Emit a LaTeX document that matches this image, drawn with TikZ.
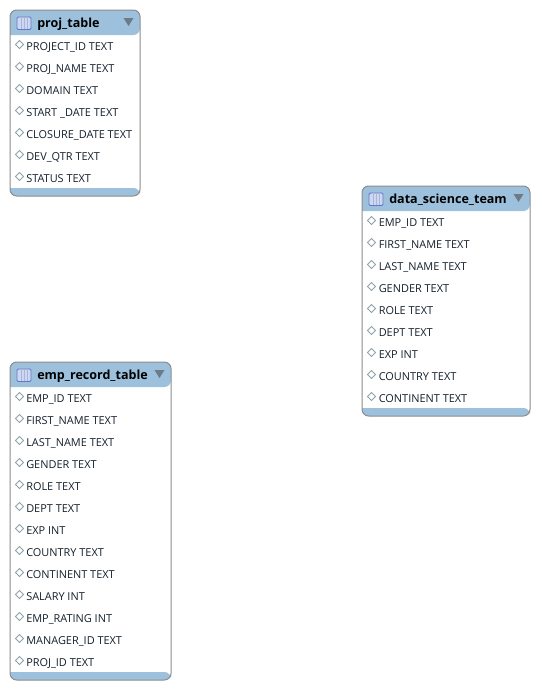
\documentclass[tikz,border=0pt]{standalone}
\usepackage{fontspec}
\setmainfont{Open Sans}
\definecolor{headblue}{HTML}{9DC1DC}
\definecolor{edgegray}{HTML}{8C8C8C}
\definecolor{iconblue}{HTML}{5F78C8}
\definecolor{arrowgray}{HTML}{6E7A84}
\definecolor{diamondgray}{HTML}{8FA3A8}
\definecolor{rowink}{HTML}{14202C}
\tikzset{
  rowtext/.style={anchor=base west, inner sep=0pt, font=\fontsize{8.2}{10}\selectfont, text=rowink},
  titletext/.style={anchor=base west, inner sep=0pt, font=\fontsize{9.4}{11}\selectfont\bfseries, text=black},
  keymark/.style={draw=diamondgray, fill=white, line width=0.6pt},
}
% one table shell: left, top, right, bottom, name, title
\newcommand{\tableshell}[6]{
  \fill[white, rounded corners=5] (#1,#2) rectangle (#3,#4);
  \fill[headblue, rounded corners=5] (#1,#2+25) -- (#1,#2) -- (#3,#2) -- (#3,#2+25) [sharp corners] -- cycle;
  \fill[headblue, rounded corners=5] (#1,#4-8) -- (#1,#4) -- (#3,#4) -- (#3,#4-8) [sharp corners] -- cycle;
  \draw[edgegray, line width=0.75pt, rounded corners=5] (#1,#2) rectangle (#3,#4);
  % table icon
  \draw[iconblue, fill=iconblue!30, line width=0.7pt, rounded corners=1] (#1+7,#2+7) rectangle (#1+21,#2+19.5);
  \foreach \cx in {11,14,17} {
    \draw[iconblue!55, line width=0.5pt] (#1+\cx,#2+8) -- (#1+\cx,#2+19);
  }
  \node[titletext] (#5) at (#1+27,#2+17) {#6};
  % collapse arrow
  \fill[arrowgray] (#3-16.5,#2+8) -- (#3-6.5,#2+8) -- (#3-11.5,#2+16) -- cycle;
}
\begin{document}
\begin{tikzpicture}[x=0.75pt, y=-0.75pt]

    % Fix the page to the size of the screenshot
    \useasboundingbox (0,0) rectangle (539,689);

    % proj_table
    \tableshell{10}{10}{140}{196}{projtable}{proj\_table}
    \foreach \rowname [count=\i from 0] in {PROJECT\_ID TEXT, PROJ\_NAME TEXT, DOMAIN TEXT,
        START \_DATE TEXT, CLOSURE\_DATE TEXT, DEV\_QTR TEXT, STATUS TEXT} {
      \draw[keymark] (15.5,44.5+22*\i) -- (19.5,40.5+22*\i) -- (23.5,44.5+22*\i) -- (19.5,48.5+22*\i) -- cycle;
      \node[rowtext] (proj\i) at (26,50+22*\i) {\rowname};
    }

    % data_science_team
    \tableshell{362}{186}{530}{416}{datateam}{data\_science\_team}
    \foreach \rowname [count=\i from 0] in {EMP\_ID TEXT, FIRST\_NAME TEXT, LAST\_NAME TEXT,
        GENDER TEXT, ROLE TEXT, DEPT TEXT, EXP INT, COUNTRY TEXT, CONTINENT TEXT} {
      \draw[keymark] (367.5,220.5+22*\i) -- (371.5,216.5+22*\i) -- (375.5,220.5+22*\i) -- (371.5,224.5+22*\i) -- cycle;
      \node[rowtext] (team\i) at (378.5,226+22*\i) {\rowname};
    }

    % emp_record_table
    \tableshell{10}{362}{171}{680}{emprecord}{emp\_record\_table}
    \foreach \rowname [count=\i from 0] in {EMP\_ID TEXT, FIRST\_NAME TEXT, LAST\_NAME TEXT,
        GENDER TEXT, ROLE TEXT, DEPT TEXT, EXP INT, COUNTRY TEXT, CONTINENT TEXT,
        SALARY INT, EMP\_RATING INT, MANAGER\_ID TEXT, PROJ\_ID TEXT} {
      \draw[keymark] (15.5,396.5+22*\i) -- (19.5,392.5+22*\i) -- (23.5,396.5+22*\i) -- (19.5,400.5+22*\i) -- cycle;
      \node[rowtext] (emp\i) at (26,402+22*\i) {\rowname};
    }

\end{tikzpicture}
\end{document}
